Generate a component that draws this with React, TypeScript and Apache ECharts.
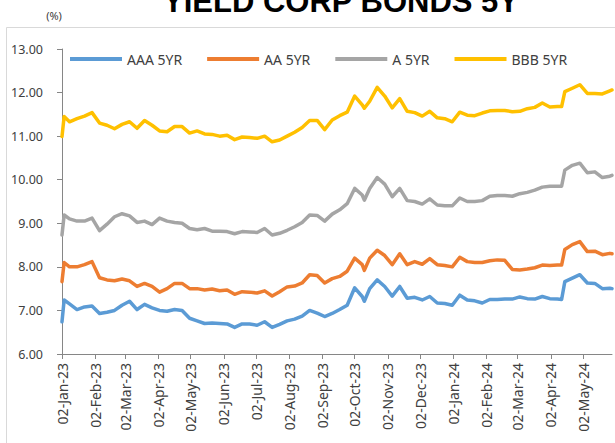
import React, { useEffect, useRef } from "react";
import * as echarts from "echarts";

const TITLE = "YIELD CORP BONDS 5Y";
const UNIT = "(%)";
const AXIS_START = "2023-01-02";
const AXIS_END = "2024-05-29";
const MONTHS = ["Jan", "Feb", "Mar", "Apr", "May", "Jun", "Jul", "Aug", "Sep", "Oct", "Nov", "Dec"];
const seriesNames = ["AAA 5YR", "AA 5YR", "A 5YR", "BBB 5YR"];
const seriesColors = ["#5B9BD5", "#ED7D31", "#A5A5A5", "#FFC000"];
const Y_MIN = 6;
const Y_MAX = 13;
const Y_STEP = 1;

const sampleDates = [
  "2023-01-02", "2023-01-04", "2023-01-09", "2023-01-16", "2023-01-23", "2023-01-30",
  "2023-02-06", "2023-02-13", "2023-02-20", "2023-02-27", "2023-03-06", "2023-03-13",
  "2023-03-20", "2023-03-27", "2023-04-03", "2023-04-10", "2023-04-17", "2023-04-24",
  "2023-05-01", "2023-05-08", "2023-05-15", "2023-05-22", "2023-05-29", "2023-06-05",
  "2023-06-12", "2023-06-19", "2023-06-26", "2023-07-03", "2023-07-10", "2023-07-17",
  "2023-07-24", "2023-07-31", "2023-08-07", "2023-08-14", "2023-08-21", "2023-08-28",
  "2023-09-04", "2023-09-11", "2023-09-18", "2023-09-25", "2023-10-02", "2023-10-09",
  "2023-10-11", "2023-10-16", "2023-10-23", "2023-10-30", "2023-11-06", "2023-11-13",
  "2023-11-20", "2023-11-27", "2023-12-04", "2023-12-11", "2023-12-18", "2023-12-25",
  "2024-01-01", "2024-01-08", "2024-01-15", "2024-01-22", "2024-01-29", "2024-02-05",
  "2024-02-12", "2024-02-19", "2024-02-26", "2024-03-04", "2024-03-11", "2024-03-18",
  "2024-03-25", "2024-04-01", "2024-04-08", "2024-04-12", "2024-04-15", "2024-04-22",
  "2024-04-29", "2024-05-06", "2024-05-13", "2024-05-20", "2024-05-27", "2024-05-29",
];

const aaa5yr = [
  6.74, 7.24, 7.15, 7.02, 7.08, 7.10,
  6.93, 6.96, 7.00, 7.12, 7.21, 7.02,
  7.14, 7.06, 7.00, 6.98, 7.02, 7.00,
  6.82, 6.76, 6.70, 6.71, 6.70, 6.69,
  6.61, 6.69, 6.69, 6.66, 6.74, 6.61,
  6.68, 6.76, 6.80, 6.87, 7.00, 6.94,
  6.86, 6.93, 7.02, 7.12, 7.52, 7.32,
  7.21, 7.50, 7.70, 7.55, 7.33, 7.55,
  7.28, 7.30, 7.24, 7.32, 7.17, 7.16,
  7.12, 7.35, 7.24, 7.22, 7.17, 7.25,
  7.25, 7.26, 7.26, 7.31, 7.27, 7.26,
  7.32, 7.27, 7.26, 7.25, 7.66, 7.74,
  7.82, 7.63, 7.62, 7.50, 7.51, 7.50,
];

const aa5yr = [
  7.66, 8.10, 8.00, 8.00, 8.05, 8.12,
  7.75, 7.70, 7.68, 7.72, 7.68, 7.55,
  7.62, 7.55, 7.42, 7.50, 7.62, 7.62,
  7.50, 7.50, 7.47, 7.49, 7.45, 7.47,
  7.37, 7.43, 7.42, 7.40, 7.45, 7.33,
  7.43, 7.54, 7.56, 7.63, 7.82, 7.80,
  7.63, 7.73, 7.78, 7.90, 8.20, 8.05,
  7.92, 8.20, 8.38, 8.26, 8.05, 8.30,
  8.05, 8.12, 8.06, 8.19, 8.05, 8.03,
  8.00, 8.22, 8.12, 8.10, 8.10, 8.14,
  8.16, 8.15, 7.94, 7.93, 7.95, 7.98,
  8.04, 8.03, 8.04, 8.04, 8.40, 8.51,
  8.58, 8.35, 8.36, 8.28, 8.31, 8.30,
];

const a5yr = [
  8.73, 9.19, 9.10, 9.05, 9.05, 9.12,
  8.83, 8.98, 9.15, 9.22, 9.17, 9.02,
  9.05, 8.97, 9.12, 9.05, 9.02, 9.00,
  8.88, 8.85, 8.88, 8.82, 8.82, 8.81,
  8.76, 8.81, 8.80, 8.79, 8.88, 8.73,
  8.77, 8.84, 8.92, 9.02, 9.19, 9.18,
  9.05, 9.21, 9.31, 9.45, 9.80, 9.65,
  9.53, 9.80, 10.05, 9.90, 9.61, 9.80,
  9.52, 9.50, 9.44, 9.56, 9.42, 9.40,
  9.40, 9.58, 9.50, 9.50, 9.52, 9.62,
  9.64, 9.64, 9.62, 9.68, 9.71, 9.76,
  9.83, 9.85, 9.85, 9.85, 10.22, 10.33,
  10.38, 10.16, 10.18, 10.05, 10.08, 10.10,
];

const bbb5yr = [
  10.99, 11.45, 11.33, 11.40, 11.46, 11.54,
  11.30, 11.25, 11.17, 11.27, 11.33, 11.18,
  11.36, 11.25, 11.12, 11.10, 11.22, 11.22,
  11.07, 11.12, 11.05, 11.04, 11.00, 11.02,
  10.92, 10.98, 10.97, 10.95, 11.00, 10.87,
  10.91, 11.00, 11.09, 11.20, 11.36, 11.36,
  11.15, 11.37, 11.47, 11.55, 11.92, 11.72,
  11.64, 11.80, 12.12, 11.92, 11.65, 11.86,
  11.57, 11.54, 11.46, 11.57, 11.42, 11.40,
  11.33, 11.55, 11.48, 11.47, 11.53, 11.58,
  11.59, 11.59, 11.56, 11.57, 11.63, 11.66,
  11.76, 11.67, 11.68, 11.68, 12.02, 12.10,
  12.18, 11.98, 11.98, 11.97, 12.04, 12.06,
];

const seriesValues = [aaa5yr, aa5yr, a5yr, bbb5yr];

const FONT = "'Noto Sans', 'Liberation Sans', sans-serif";

function toUTC(s: string) {
  const [y, m, d] = s.split("-").map(Number);
  return Date.UTC(y, m - 1, d);
}

function dayIndex(s: string) {
  return Math.round((toUTC(s) - toUTC(AXIS_START)) / 86400000);
}

function buildCategories() {
  const out: string[] = [];
  const end = toUTC(AXIS_END);
  for (let t = toUTC(AXIS_START); t <= end; t += 86400000) {
    const d = new Date(t);
    const mm = String(d.getUTCMonth() + 1).padStart(2, "0");
    const dd = String(d.getUTCDate()).padStart(2, "0");
    out.push(`${d.getUTCFullYear()}-${mm}-${dd}`);
  }
  return out;
}

function fmtDate(v: string) {
  const [y, m, d] = v.split("-");
  return `${d}-${MONTHS[Number(m) - 1]}-${y.slice(2)}`;
}

const isSecond = (_i: number, v: string) => typeof v === "string" && v.slice(8) === "02";

export default function App() {
  const ref = useRef<HTMLDivElement>(null);

  useEffect(() => {
    if (!ref.current) return;
    const chart = echarts.init(ref.current, null, { renderer: "svg" });
    const categories = buildCategories();

    chart.setOption({
      animation: false,
      backgroundColor: "#ffffff",
      textStyle: { fontFamily: FONT },
      graphic: [
        {
          type: "rect",
          silent: true,
          z: -10,
          shape: { x: 6.5, y: 27.5, width: 900, height: 700 },
          style: { fill: "none", stroke: "#d9d9d9", lineWidth: 1 },
        },
        {
          type: "text",
          silent: true,
          x: 341,
          y: 1,
          style: {
            text: TITLE,
            font: "bold 31px 'Liberation Sans', Arial, sans-serif",
            fill: "#000000",
            align: "center",
            verticalAlign: "middle",
            textAlign: "center",
            textVerticalAlign: "middle",
          },
        },
        {
          type: "text",
          silent: true,
          x: 54,
          y: 15,
          style: {
            text: UNIT,
            font: `11px ${FONT}`,
            fill: "#404040",
            align: "center",
            verticalAlign: "middle",
            textAlign: "center",
            textVerticalAlign: "middle",
          },
        },
      ],
      legend: {
        data: seriesNames,
        left: 65,
        top: 47,
        icon: "rect",
        itemWidth: 52,
        itemHeight: 4,
        itemGap: 25,
        textStyle: { fontSize: 14, color: "#404040", fontFamily: FONT },
      },
      grid: { left: 62, right: 3, top: 49, bottom: 89, containLabel: false },
      xAxis: {
        type: "category",
        data: categories,
        boundaryGap: false,
        axisLine: { show: true, lineStyle: { color: "#868686", width: 1 } },
        axisTick: { show: true, length: 5, interval: isSecond, lineStyle: { color: "#868686" } },
        axisLabel: {
          interval: isSecond,
          rotate: 90,
          margin: 9,
          fontSize: 14,
          color: "#404040",
          fontFamily: FONT,
          formatter: (v: string) => fmtDate(v),
        },
        splitLine: { show: false },
      },
      yAxis: {
        type: "value",
        min: Y_MIN,
        max: Y_MAX,
        interval: Y_STEP,
        axisLine: { show: true, lineStyle: { color: "#868686", width: 1 } },
        axisTick: { show: true, length: 5, lineStyle: { color: "#868686" } },
        axisLabel: {
          margin: 19,
          fontSize: 12.5,
          color: "#404040",
          fontFamily: FONT,
          formatter: (v: number) => v.toFixed(2),
        },
        splitLine: { show: false },
      },
      series: seriesNames.map((name, si) => ({
        name,
        type: "line",
        showSymbol: false,
        symbol: "none",
        lineStyle: { width: 3.5, color: seriesColors[si], join: "round", cap: "round" },
        itemStyle: { color: seriesColors[si] },
        data: sampleDates.map((d, i) => [dayIndex(d), seriesValues[si][i]]),
      })),
    });

    return () => chart.dispose();
  }, []);

  return (
    <div
      ref={ref}
      style={{ position: "absolute", left: 0, top: 0, width: 615, height: 443 }}
    />
  );
}
